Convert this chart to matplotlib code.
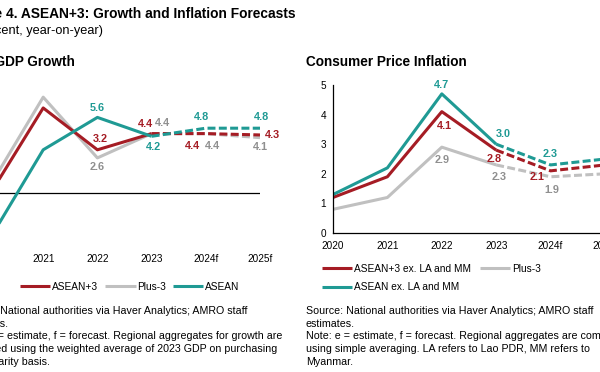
import numpy as np
import matplotlib.pyplot as plt
from matplotlib import use, rc

use('agg')
rc('font', **{'family': 'sans-serif', 'sans-serif': ['Liberation Sans', 'DejaVu Sans']})

# data
years = ['2020', '2021', '2022', '2023', '2024f', '2025f']

gdp_asean3 = [-0.2, 6.3, 3.2, 4.4, 4.4, 4.3]
gdp_plus3 = [0.4, 7.1, 2.6, 4.4, 4.4, 4.1]
gdp_asean = [-3.5, 3.2, 5.6, 4.2, 4.8, 4.8]

cpi_asean3 = [1.2, 1.9, 4.1, 2.8, 2.1, 2.3]
cpi_plus3 = [0.8, 1.2, 2.9, 2.3, 1.9, 2.0]
cpi_asean = [1.3, 2.2, 4.7, 3.0, 2.3, 2.5]

RED = '#A51C24'
GRAY = '#C0C0C0'
GRAY_TXT = '#8F8F8F'
TEAL = '#1F9A94'

W, H = 600, 372

def fx(px):
    return px / W

def fy(px):
    return 1 - px / H

fig = plt.figure(figsize=(6, 3.72), dpi=100)

axL = fig.add_axes([fx(-11), fy(247), fx(271), 162 / H])
axR = fig.add_axes([fx(333), fy(233), fx(272), 148 / H])

x = np.arange(len(years))
split = 3  # 2023 onwards is estimate / forecast


def draw(ax, y, color, label):
    ax.plot(x[:split + 1], y[:split + 1], color=color, lw=2.2, solid_capstyle='butt', label=label)
    ax.plot(x[split:], y[split:], color=color, lw=2.2, dashes=(2.6, 1.1), dash_capstyle='butt')


def lab(ax, i, y, color, dx, dy):
    # dx, dy in pixels, dy positive = up
    ax.annotate(f'{y[i]:.1f}', (x[i], y[i]), xytext=(dx * 0.72, dy * 0.72),
                textcoords='offset points', ha='center', va='center',
                fontsize=7.8, fontweight='bold', color=color)


# ---- left panel: GDP growth
draw(axL, gdp_plus3, GRAY, 'Plus-3')
draw(axL, gdp_asean3, RED, 'ASEAN+3')
draw(axL, gdp_asean, TEAL, 'ASEAN')
axL.axhline(0, color='k', lw=0.9, zorder=0)
axL.set_xlim(0, 5)
axL.set_ylim(-4, 8)
for s in axL.spines.values():
    s.set_visible(False)
axL.set_yticks([])
axL.set_xticks(x)
axL.set_xticklabels(years)
axL.tick_params(axis='x', length=0, pad=5, labelsize=7.2)

lab(axL, 2, gdp_asean, TEAL, 0, 9)
lab(axL, 2, gdp_asean3, RED, 3, 11)
lab(axL, 2, gdp_plus3, GRAY_TXT, 0, -9)
lab(axL, 3, gdp_asean3, RED, -6, 10)
lab(axL, 3, gdp_plus3, GRAY_TXT, 11, 11)
lab(axL, 3, gdp_asean, TEAL, 2, -11)
lab(axL, 4, gdp_asean, TEAL, -4, 11)
lab(axL, 4, gdp_asean3, RED, -13, -12)
lab(axL, 4, gdp_plus3, GRAY_TXT, 7, -12)
lab(axL, 5, gdp_asean, TEAL, 2, 11)
lab(axL, 5, gdp_asean3, RED, 12, 0)
lab(axL, 5, gdp_plus3, GRAY_TXT, 0, -9)

hL = axL.get_legend_handles_labels()
order = ['ASEAN+3', 'Plus-3', 'ASEAN']
hh = [hL[0][hL[1].index(k)] for k in order]
fig.legend(hh, order, loc='upper left', bbox_to_anchor=(fx(20), fy(282)), ncol=3,
           frameon=False, fontsize=7.3, handlelength=3.0, handletextpad=0.15,
           columnspacing=0.7, borderpad=0, borderaxespad=0)

# ---- right panel: CPI
draw(axR, cpi_plus3, GRAY, 'Plus-3')
draw(axR, cpi_asean3, RED, 'ASEAN+3 ex. LA and MM')
draw(axR, cpi_asean, TEAL, 'ASEAN ex. LA and MM')
axR.set_xlim(0, 5)
axR.set_ylim(0, 5)
axR.spines['top'].set_visible(False)
axR.spines['right'].set_visible(False)
axR.spines['left'].set_linewidth(0.9)
axR.spines['bottom'].set_linewidth(0.9)
axR.set_xticks(x)
axR.set_xticklabels(years)
axR.set_yticks(range(0, 6))
axR.tick_params(axis='both', length=0, labelsize=7.2)
axR.tick_params(axis='x', pad=5.5)
axR.tick_params(axis='y', pad=5)

lab(axR, 2, cpi_asean, TEAL, 0, 9)
lab(axR, 2, cpi_asean3, RED, 3, -14)
lab(axR, 2, cpi_plus3, GRAY_TXT, 0, -13)
lab(axR, 3, cpi_asean, TEAL, 7, 10)
lab(axR, 3, cpi_asean3, RED, -2, -9)
lab(axR, 3, cpi_plus3, GRAY_TXT, 3, -12)
lab(axR, 4, cpi_asean, TEAL, 0, 11)
lab(axR, 4, cpi_asean3, RED, -14, -6)
lab(axR, 4, cpi_plus3, GRAY_TXT, 1, -13)

hR = axR.get_legend_handles_labels()
# column-wise fill: first column gets two rows
orderR = ['ASEAN+3 ex. LA and MM', 'ASEAN ex. LA and MM', 'Plus-3']
hh = [hR[0][hR[1].index(k)] for k in orderR]
fig.legend(hh, orderR, loc='upper left', bbox_to_anchor=(fx(322), fy(264)), ncol=2,
           frameon=False, fontsize=7.3, handlelength=3.0, handletextpad=0.15,
           columnspacing=0.9, labelspacing=0.8, borderpad=0, borderaxespad=0)

# ---- titles and notes
fig.text(fx(296), fy(14), 'Figure 4. ASEAN+3: Growth and Inflation Forecasts',
         ha='right', va='center', fontsize=9.9, fontweight='bold')
fig.text(fx(103), fy(31), '(Percent, year-on-year)', ha='right', va='center', fontsize=9.2)
fig.text(fx(75), fy(62), 'Real GDP Growth', ha='right', va='center', fontsize=9.8, fontweight='bold')
fig.text(fx(306), fy(62), 'Consumer Price Inflation', ha='left', va='center', fontsize=9.8, fontweight='bold')

noteL = ('Source: National authorities via Haver Analytics; AMRO staff\n'
         'estimates.\n'
         'Note: e = estimate, f = forecast. Regional aggregates for growth are\n'
         'computed using the weighted average of 2023 GDP on purchasing\n'
         'power parity basis.')
noteR = ('Source: National authorities via Haver Analytics; AMRO staff\n'
         'estimates.\n'
         'Note: e = estimate, f = forecast. Regional aggregates are computed\n'
         'using simple averaging. LA refers to Lao PDR, MM refers to\n'
         'Myanmar.')
fig.text(fx(-40), fy(306), noteL, ha='left', va='top', fontsize=7.7, linespacing=1.34)
fig.text(fx(306), fy(306), noteR, ha='left', va='top', fontsize=7.7, linespacing=1.34)

fig.savefig('out.png', dpi=100)
plt.close(fig)
